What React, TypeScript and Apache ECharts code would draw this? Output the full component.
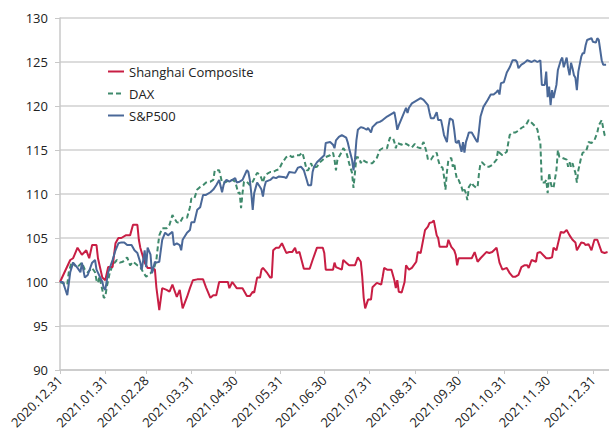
import React, { useEffect, useRef } from "react";
import * as echarts from "echarts";

// x values are calendar days counted from 2020.12.31
const tickDays = [0, 31, 59, 90, 120, 151, 181, 212, 243, 273, 304, 334, 365];
const tickLabels = [
  "2020.12.31", "2021.01.31", "2021.02.28", "2021.03.31", "2021.04.30", "2021.05.31",
  "2021.06.30", "2021.07.31", "2021.08.31", "2021.09.30", "2021.10.31", "2021.11.30", "2021.12.31",
];
const seriesNames = ["Shanghai Composite", "DAX", "S&P500"];

const shanghaiDays = [0,7,9,12,15,18,20,22,25,26,29,31,33,36,38,40,42,45,48,50,53,54,55,58,60,63,65,66,68,70,73,75,77,80,82,84,87,89,91,94,98,100,103,105,107,109,113,115,116,118,121,125,128,130,132,133,135,137,138,139,142,144,145,146,148,150,152,155,157,159,161,162,164,167,171,173,176,180,181,182,187,188,189,193,194,196,198,202,204,206,207,208,209,211,213,214,217,220,221,222,224,227,229,230,231,232,234,236,237,239,241,244,245,247,250,252,253,255,256,258,259,260,265,266,268,270,271,272,273,282,284,286,288,292,294,296,299,301,303,306,308,310,312,314,316,318,320,321,323,326,327,329,333,335,337,338,340,343,345,347,349,351,353,354,357,359,360,362,364,366,368,371,373,375];
const shanghaiValues = [100.0,102.5,102.7,103.9,103.1,103.6,102.7,104.2,104.2,102.7,100.5,100.2,101.7,101.7,104.4,105.0,105.0,105.3,105.3,106.5,106.5,104.8,103.9,102.2,101.6,101.6,101.4,99.4,96.8,99.3,99.1,98.9,99.7,98.3,99.1,97.0,98.3,99.3,100.2,100.3,100.3,99.4,98.2,98.5,98.5,100.0,100.0,100.0,99.3,100.0,99.3,99.3,98.4,98.4,98.9,98.8,100.5,100.5,101.4,101.6,101.0,100.5,100.5,103.6,103.9,103.9,104.4,103.3,103.4,103.4,103.9,103.3,103.4,101.5,101.5,102.5,103.9,103.9,103.3,101.4,101.4,102.2,101.7,101.4,102.5,102.2,101.9,101.9,102.8,102.3,100.6,98.2,97.0,98.0,98.0,99.4,99.9,99.7,100.6,101.6,101.4,101.4,100.2,99.3,100.2,98.9,98.8,100.0,101.9,101.4,101.6,102.3,103.4,103.3,105.9,106.3,106.7,106.8,107.0,105.3,105.0,104.0,104.0,104.8,104.0,103.6,103.1,101.9,102.7,102.7,103.4,102.3,102.7,103.4,103.3,103.4,103.9,102.2,101.4,101.6,101.0,100.6,100.6,100.8,101.7,101.9,101.9,101.6,102.5,102.3,103.3,103.4,102.7,102.7,102.8,103.9,103.6,105.7,105.6,105.9,105.3,104.8,104.5,103.6,104.5,104.4,104.2,104.3,103.6,104.8,104.8,103.4,103.3,103.4];

const daxDays = [0,5,6,8,10,12,15,17,19,22,24,25,26,27,29,30,31,32,34,36,39,41,43,46,48,50,53,55,57,59,62,64,65,66,67,68,70,73,75,77,80,82,84,87,89,90,92,94,96,98,100,103,105,106,107,109,111,112,114,116,118,120,121,122,123,124,125,126,128,130,132,135,137,139,140,141,144,146,148,150,152,155,157,159,162,164,166,167,169,170,171,172,173,176,178,180,182,185,187,188,189,190,191,193,194,196,197,198,200,201,202,203,205,206,207,210,212,214,217,219,221,224,225,226,228,229,230,231,234,236,238,241,243,245,247,248,249,251,252,254,256,258,259,260,261,262,263,264,265,266,268,269,270,271,272,273,275,276,277,278,279,280,282,283,285,286,287,288,289,292,294,296,299,300,301,303,306,307,308,310,312,314,316,319,321,323,326,327,328,329,330,332,333,334,335,336,337,338,340,341,342,344,347,348,349,350,351,352,353,354,355,357,358,360,361,362,364,366,368,369,371,372,373,374];
const daxValues = [100.0,99.7,101.1,102.3,101.9,101.7,102.2,101.4,101.1,101.6,101.1,100.2,99.9,100.6,99.1,98.2,98.3,99.4,101.0,101.9,102.5,102.2,102.3,102.8,101.9,102.3,101.9,101.7,101.1,100.6,101.0,101.4,101.9,102.5,104.0,105.3,106.1,106.1,106.5,107.6,106.8,106.7,107.3,107.3,108.5,109.5,109.5,110.5,110.8,111.0,111.3,111.4,111.6,112.7,112.7,112.7,111.3,111.3,111.4,111.6,111.6,111.4,110.8,110.1,110.2,108.4,110.1,111.4,111.4,111.0,111.4,112.4,112.2,111.3,111.9,112.2,112.5,112.5,112.7,112.8,113.5,114.2,114.4,114.2,114.4,114.4,114.7,114.1,112.7,112.7,113.1,113.5,113.0,113.1,113.6,113.9,114.2,114.4,114.7,113.9,112.7,113.9,114.2,114.8,115.2,114.8,114.2,113.5,112.4,110.7,112.4,114.2,114.1,113.5,113.9,113.6,113.5,113.5,114.1,115.0,115.2,115.2,115.9,116.4,116.4,115.9,115.2,115.8,115.6,115.8,115.6,115.3,115.7,115.3,115.2,115.6,115.9,114.8,113.9,113.9,114.4,114.7,113.9,113.3,113.1,113.0,112.0,110.5,112.5,113.9,114.1,113.1,113.5,112.4,111.6,111.6,110.8,110.2,110.5,110.1,109.3,110.8,111.3,111.0,110.7,110.8,112.4,113.5,113.6,113.1,113.1,113.3,113.9,115.0,114.7,114.4,114.8,115.8,116.7,117.0,117.0,117.2,117.5,117.8,118.4,118.1,117.6,117.3,116.4,115.8,111.3,111.3,111.6,110.1,112.4,111.3,110.7,110.7,112.7,115.0,114.2,114.1,113.9,113.1,113.6,113.1,113.5,112.9,112.4,111.3,112.7,114.2,114.7,114.8,115.2,115.9,115.8,116.1,117.0,117.8,118.4,117.5,116.7,116.4];

const spDays = [0,2,5,7,9,12,14,15,17,19,22,24,25,29,30,31,33,36,38,40,42,44,46,49,51,53,55,56,58,59,60,62,63,65,66,68,70,72,74,77,78,80,82,83,84,87,89,90,92,94,96,98,100,103,105,107,109,111,112,113,114,116,120,121,123,125,128,129,130,131,132,133,135,137,138,139,140,141,144,146,148,150,154,155,157,161,163,165,167,169,170,172,173,174,176,179,181,182,185,187,188,189,191,193,196,197,198,200,201,202,203,204,206,208,210,211,213,214,217,219,221,224,226,228,229,230,231,232,234,237,238,239,241,245,247,249,252,253,254,256,258,259,261,262,263,265,266,267,269,270,271,272,273,275,276,277,278,279,280,282,285,286,287,288,290,293,295,297,299,300,301,302,304,306,308,310,312,313,314,316,318,320,323,325,327,329,330,332,333,334,335,336,337,338,340,341,343,344,345,347,348,349,350,351,352,353,354,355,357,358,359,360,361,364,365,367,368,369,371,372,374];
const spValues = [100.0,100.0,98.5,101.1,102.2,101.6,101.1,102.2,100.5,100.8,102.2,102.5,101.4,100.0,99.3,99.1,101.1,102.5,103.6,104.4,104.5,104.5,104.2,104.2,103.6,103.3,102.2,101.4,103.6,101.7,103.9,103.1,101.0,102.3,102.2,102.3,104.8,105.6,105.3,105.7,104.2,104.4,104.2,103.6,104.8,105.6,105.9,106.8,106.8,108.2,108.5,109.9,109.9,110.2,110.5,111.0,111.6,110.2,111.0,111.4,111.6,111.4,111.8,111.3,111.4,111.6,112.7,112.5,111.6,110.1,108.2,110.1,111.3,110.8,110.5,109.7,110.8,111.4,111.6,111.9,111.8,112.0,111.9,111.8,112.5,112.4,113.0,113.1,112.7,111.6,111.0,111.0,112.5,113.1,113.6,114.1,114.4,115.8,115.9,115.6,115.2,116.1,116.5,116.7,116.4,115.9,115.2,113.9,112.7,113.9,116.1,117.3,117.6,117.5,117.3,117.5,117.0,117.6,118.1,118.2,118.4,118.8,119.0,119.2,119.3,118.4,117.3,117.8,118.6,119.8,119.2,119.8,120.3,120.7,120.9,120.7,120.1,119.3,118.6,118.6,119.3,118.4,118.4,117.6,116.7,115.9,117.6,118.6,118.4,117.3,115.9,115.8,116.1,114.8,115.9,114.7,115.9,116.4,117.0,117.0,116.1,115.9,117.3,118.8,119.9,120.7,121.3,121.3,121.6,121.8,121.3,122.6,122.7,123.8,124.4,125.2,125.2,125.0,124.3,124.7,124.9,125.2,125.0,125.2,125.0,125.2,122.4,122.4,123.9,121.0,122.2,120.1,121.8,120.9,122.4,124.1,125.2,125.5,124.4,125.5,124.3,123.5,124.9,124.3,123.5,123.2,121.8,123.9,125.6,126.0,126.0,126.9,127.5,127.7,127.3,127.2,127.7,127.5,125.2,124.7,124.7];

const colors = ["#c81e44", "#3f8a6c", "#4a6898"];

function zip(days: number[], values: number[]) {
  return days.map((d, i) => [d, values[i]]);
}

export default function App() {
  const ref = useRef<HTMLDivElement>(null);
  useEffect(() => {
    if (!ref.current) return;
    const chart = echarts.init(ref.current, undefined, { renderer: "svg" });
    const font = "'Open Sans', sans-serif";
    chart.setOption({
      animation: false,
      grid: { left: 60, top: 18, right: 0, bottom: 66 },
      legend: {
        orient: "vertical",
        left: 102,
        top: 60,
        itemWidth: 16,
        itemHeight: 10,
        itemGap: 9,
        itemStyle: { opacity: 0 },
        lineStyle: { width: 2 },
        textStyle: { fontFamily: font, fontSize: 13, color: "#222" },
        data: seriesNames,
      },
      xAxis: {
        type: "value",
        min: 0,
        max: 376,
        splitLine: { show: false },
        axisLine: { show: true, lineStyle: { color: "#c8c8c8", width: 1.5 } },
        axisTick: { show: true, length: 4, customValues: tickDays, lineStyle: { color: "#c8c8c8" } },
        axisLabel: {
          customValues: tickDays,
          rotate: 45,
          margin: 8,
          fontFamily: font,
          fontSize: 13,
          color: "#222",
          formatter: (v: number) => {
            const i = tickDays.indexOf(Math.round(v));
            return i >= 0 ? tickLabels[i] : "";
          },
        },
      },
      yAxis: {
        type: "value",
        min: 90,
        max: 130,
        interval: 5,
        axisLine: { show: true, lineStyle: { color: "#c8c8c8", width: 1.5 } },
        axisTick: { show: true, length: 5, lineStyle: { color: "#c8c8c8" } },
        splitLine: { show: true, lineStyle: { color: "#d0d0d0", width: 1.5 } },
        axisLabel: { fontFamily: font, fontSize: 13, color: "#222", margin: 12 },
      },
      series: [
        {
          name: seriesNames[0],
          type: "line",
          data: zip(shanghaiDays, shanghaiValues),
          symbol: "none",
          color: colors[0],
          lineStyle: { width: 2, color: colors[0] },
          z: 3,
        },
        {
          name: seriesNames[1],
          type: "line",
          data: zip(daxDays, daxValues),
          symbol: "none",
          color: colors[1],
          lineStyle: { width: 2, color: colors[1], type: [5, 3] },
          z: 2,
        },
        {
          name: seriesNames[2],
          type: "line",
          data: zip(spDays, spValues),
          symbol: "none",
          color: colors[2],
          lineStyle: { width: 2, color: colors[2] },
          z: 4,
        },
      ],
    });
    return () => chart.dispose();
  }, []);
  return (
    <div
      ref={ref}
      style={{ position: "fixed", left: 0, top: 0, width: 609, height: 436, background: "#fff" }}
    />
  );
}
